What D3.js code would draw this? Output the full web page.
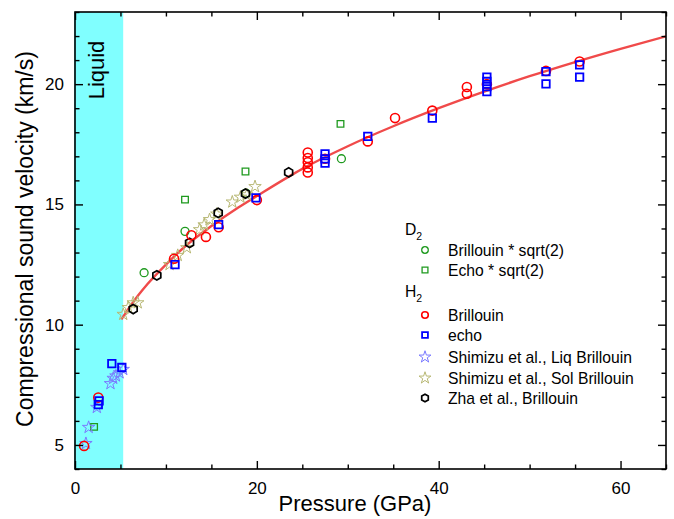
<!DOCTYPE html>
<html><head><meta charset="utf-8">
<script src="https://cdn.jsdelivr.net/npm/d3@7"></script>
<style>body{margin:0;background:#fff}svg{display:block;font-family:"Liberation Sans",Arial,sans-serif}</style>
</head><body><svg id="c" width="674" height="519"></svg>
<script>
// ---- data ----
const liquidRange = [0, 5.3];
const fitCurve = [[5.1,10.22],[6,10.73],[7,11.24],[8,11.7],[10,12.5],[12,13.22],[15,14.1],[18,14.88],[20,15.35],[25,16.48],[30,17.42],[35,18.25],[40,19.0],[45,19.69],[50,20.33],[55,20.92],[60,21.47],[65,21.99]];
const d2Brillouin = [[7.6,12.16],[12.1,13.88],[18.8,15.47],[29.3,16.9]];
const d2Echo = [[2.1,5.75],[12.1,15.2],[18.75,16.37],[29.2,18.35]];
const h2Brillouin = [[1.0,4.96],[2.56,6.97],[10.9,12.74],[12.8,13.72],[14.4,13.65],[15.8,14.05],[20.0,15.18],[25.6,17.16],[25.6,16.93],[25.6,16.75],[25.6,16.54],[25.6,16.33],[27.5,16.9],[32.2,17.62],[35.2,18.59],[39.3,18.9],[43.1,19.88],[43.1,19.6],[45.3,20.0],[51.8,20.55],[55.5,20.94]];
const h2Echo = [[2.65,6.83],[2.56,6.68],[4.05,8.38],[5.15,8.22],[11.0,12.5],[15.8,14.16],[19.9,15.27],[27.5,17.1],[27.5,16.89],[27.5,16.72],[32.2,17.83],[39.3,18.59],[45.3,20.29],[45.3,20.11],[45.3,19.9],[45.3,19.69],[51.8,20.52],[51.8,20.01],[55.5,20.8],[55.5,20.29]];
const shimizuLiq = [[1.2,5.06],[1.5,5.73],[2.4,6.56],[3.9,7.55],[4.2,7.77],[4.5,7.87],[4.9,8.0],[5.3,8.14]];
const shimizuSol = [[5.3,10.43],[5.85,10.71],[6.4,10.91],[6.9,10.91],[10.4,12.5],[11.3,12.88],[12.3,13.2],[13.7,13.95],[14.2,14.15],[14.8,14.37],[15.6,14.6],[17.3,15.1],[18.2,15.3],[18.9,15.4],[19.8,15.74]];
const zha = [[6.4,10.65],[9.0,12.05],[12.6,13.4],[15.75,14.65],[18.75,15.45],[23.5,16.33]];
const xMajor = [0,20,40,60];
const yMajor = [5,10,15,20];
const legendLabels = ["Brillouin * sqrt(2)","Echo * sqrt(2)","Brillouin","echo","Shimizu et al., Liq Brillouin","Shimizu et al., Sol Brillouin","Zha et al., Brillouin"];

// ---- layout ----
const svg = d3.select("#c");
const L=75, R=666, T=12, B=469;
const x = d3.scaleLinear().domain([0,65]).range([L,R]);
const y = d3.scaleLinear().domain([4,23]).range([B,T]);

svg.append("defs").append("clipPath").attr("id","clip").append("rect")
  .attr("x",L).attr("y",T).attr("width",R-L).attr("height",B-T);

// liquid band
svg.append("rect").attr("x",x(liquidRange[0])-1).attr("y",T).attr("width",x(liquidRange[1])-x(liquidRange[0])+1).attr("height",B-T).attr("fill","#80ffff");
svg.append("text").attr("transform",`translate(104,${70}) rotate(-90)`).attr("text-anchor","middle")
  .attr("font-size",22).text("Liquid");

// marker shapes
const hexPath = r => { let p=""; for(let i=0;i<6;i++){const a=Math.PI/3*i+Math.PI/6; p+=(i?"L":"M")+(r*Math.cos(a)).toFixed(2)+","+(r*Math.sin(a)).toFixed(2);} return p+"Z"; };
const styles = {
  d2b:{path:d3.symbol(d3.symbolCircle,50)(), stroke:"#1f9a1f", sw:1.3},
  d2e:{path:d3.symbol(d3.symbolSquare,44)(), stroke:"#1f9a1f", sw:1.3},
  h2b:{path:d3.symbol(d3.symbolCircle,64)(), stroke:"#ff0000", sw:1.6},
  h2e:{path:d3.symbol(d3.symbolSquare,56)(), stroke:"#0000ff", sw:1.8},
  liq:{path:d3.symbol(d3.symbolStar,48)(), stroke:"#7a7aff", sw:1},
  sol:{path:d3.symbol(d3.symbolStar,48)(), stroke:"#b8b874", sw:1},
  zha:{path:hexPath(4.6), stroke:"#000000", sw:1.7}
};
const series = [
  [d2Echo,"d2e"],[d2Brillouin,"d2b"],[shimizuSol,"sol"],[shimizuLiq,"liq"],[zha,"zha"],[h2Brillouin,"h2b"],[h2Echo,"h2e"]
];

// fit curve
svg.append("path").datum(fitCurve).attr("clip-path","url(#clip)")
  .attr("d", d3.line().x(d=>x(d[0])).y(d=>y(d[1])).curve(d3.curveMonotoneX))
  .attr("fill","none").attr("stroke","#f04a4a").attr("stroke-width",2.4);

const g = svg.append("g");
series.forEach(([data,key])=>{
  const s = styles[key];
  g.selectAll(null).data(data).enter().append("path")
    .attr("d",s.path).attr("transform",d=>`translate(${x(d[0])},${y(d[1])})`)
    .attr("fill","none").attr("stroke",s.stroke).attr("stroke-width",s.sw);
});

// axes
const xMinor = d3.range(0,66,5).filter(v=>!xMajor.includes(v));
const yMinor = d3.range(4,24,1).filter(v=>!yMajor.includes(v));
function ax(gen, scale, vals, len, labels){
  return gen(scale).tickValues(vals).tickSizeInner(-len).tickSizeOuter(0).tickPadding(len+4)
    .tickFormat(labels? d3.format("d") : "");
}
function drawAxis(gen, scale, transform, labeled){
  const isX = gen===d3.axisBottom || gen===d3.axisTop;
  const maj = isX? xMajor: yMajor, mn = isX? xMinor: yMinor;
  const a1 = svg.append("g").attr("transform",transform).call(ax(gen,scale,maj,8,labeled));
  const a2 = svg.append("g").attr("transform",transform).call(ax(gen,scale,mn,4.5,false));
  [a1,a2].forEach(a=>{a.selectAll("path.domain").remove(); a.selectAll("line").attr("stroke","#000").attr("stroke-width",1.4);
    a.selectAll("text").attr("font-size",17).attr("font-family","Liberation Sans, Arial, sans-serif").attr("fill","#000");});
  return a1;
}
const bx = drawAxis(d3.axisBottom, x, `translate(0,${B})`, true);
bx.selectAll("text").attr("dy","0").attr("y",25);
drawAxis(d3.axisTop, x, `translate(0,${T})`, false);
const ly = drawAxis(d3.axisLeft, y, `translate(${L},0)`, true);
ly.selectAll("text").attr("x",-11);
drawAxis(d3.axisRight, y, `translate(${R},0)`, false);

svg.append("rect").attr("x",L).attr("y",T).attr("width",R-L).attr("height",B-T)
  .attr("fill","none").attr("stroke","#000").attr("stroke-width",1.6);

// axis titles
svg.append("text").attr("x",355).attr("y",511).attr("text-anchor","middle").attr("font-size",22).text("Pressure (GPa)");
svg.append("text").attr("transform","translate(33,239) rotate(-90)").attr("text-anchor","middle").attr("font-size",23).text("Compressional sound velocity (km/s)");

// legend
const leg = svg.append("g").attr("font-size",15.7);
function sub(tx, yy, main){
  const t = leg.append("text").attr("x",tx).attr("y",yy);
  t.append("tspan").text(main);
  t.append("tspan").attr("font-size",10.5).attr("dy",5).text("2");
}
sub(405, 235, "D");
sub(405, 297, "H");
const legKeys = ["d2b","d2e","h2b","h2e","liq","sol","zha"];
const legY = [250,270,315,335,357,378,398];
legKeys.forEach((k,i)=>{
  const s = styles[k];
  leg.append("path").attr("d", k==="zha"? hexPath(3.8) : d3.symbol(
      k.endsWith("b")? d3.symbolCircle : (k==="liq"||k==="sol")? d3.symbolStar : d3.symbolSquare,
      (k==="liq"||k==="sol")? 44 : 34)())
    .attr("transform",`translate(425,${legY[i]})`).attr("fill","none").attr("stroke",s.stroke).attr("stroke-width",s.sw);
  leg.append("text").attr("x",448).attr("y",legY[i]+6).text(legendLabels[i]);
});
</script></body></html>
